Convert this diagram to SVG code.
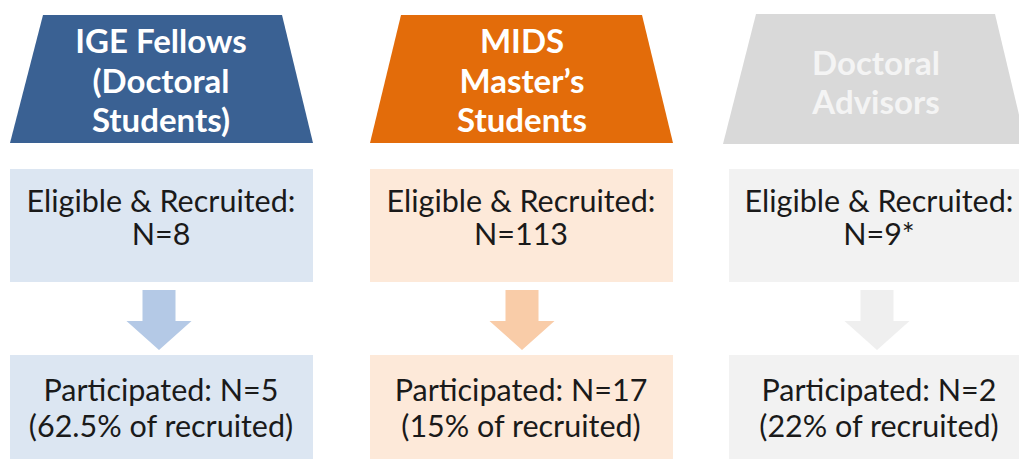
<svg xmlns="http://www.w3.org/2000/svg" width="1019" height="461" viewBox="0 0 1019 461">
  <style>
    .hd { font-family: Lato, "Open Sans", sans-serif; font-weight: bold; font-size: 33px; fill: #ffffff; text-anchor: middle; }
    .hd.pale { fill: #F4F4F4; }
    .bd { font-family: Lato, "Open Sans", sans-serif; font-size: 30.5px; fill: #1a1a1a; text-anchor: middle; }
  </style>
  <defs>
    <!-- down arrow centred on x=0, shaft top at y=0 -->
    <path id="down" d="M-16.5,0 H16.5 V31 H32.5 L0,60 L-32.5,31 H-16.5 Z"/>
  </defs>
  <rect width="1019" height="461" fill="#ffffff"/>

  <!-- column 1: IGE fellows -->
  <g id="ige-header">
    <polygon points="43,15 282,15 313,143 10,143" fill="#3A6193"/>
    <text class="hd" x="161" y="53">IGE Fellows</text>
    <text class="hd" x="161" y="93">(Doctoral</text>
    <text class="hd" x="161" y="132">Students)</text>
  </g>
  <g id="ige-recruited">
    <rect x="10" y="169" width="303" height="113" fill="#DCE6F2"/>
    <text class="bd" x="161" y="212">Eligible &amp; Recruited:</text>
    <text class="bd" x="161" y="245">N=8</text>
  </g>
  <g id="ige-participated">
    <rect x="10" y="355" width="303" height="104" fill="#DCE6F2"/>
    <text class="bd" x="161" y="401">Participated: N=5</text>
    <text class="bd" x="161" y="437">(62.5% of recruited)</text>
  </g>

  <!-- column 2: MIDS master's students -->
  <g id="mids-header">
    <polygon points="401,15 642,15 673,143 370,143" fill="#E36C0A"/>
    <text class="hd" x="522" y="53">MIDS</text>
    <text class="hd" x="522" y="93">Master’s</text>
    <text class="hd" x="522" y="132">Students</text>
  </g>
  <g id="mids-recruited">
    <rect x="370" y="169" width="303" height="113" fill="#FDE9D9"/>
    <text class="bd" x="521" y="212">Eligible &amp; Recruited:</text>
    <text class="bd" x="521" y="245">N=113</text>
  </g>
  <g id="mids-participated">
    <rect x="370" y="355" width="303" height="104" fill="#FDE9D9"/>
    <text class="bd" x="521" y="401">Participated: N=17</text>
    <text class="bd" x="521" y="437">(15% of recruited)</text>
  </g>

  <!-- column 3: doctoral advisors -->
  <g id="advisors-header">
    <polygon points="756,14 995,14 1026,144 723,144" fill="#D9D9D9"/>
    <text class="hd pale" x="876" y="75">Doctoral</text>
    <text class="hd pale" x="876" y="114">Advisors</text>
  </g>
  <g id="advisors-recruited">
    <rect x="729" y="169" width="296" height="113" fill="#F2F2F2"/>
    <text class="bd" x="879" y="212">Eligible &amp; Recruited:</text>
    <text class="bd" x="879" y="245">N=9*</text>
  </g>
  <g id="advisors-participated">
    <rect x="729" y="355" width="296" height="104" fill="#F2F2F2"/>
    <text class="bd" x="879" y="401">Participated: N=2</text>
    <text class="bd" x="879" y="437">(22% of recruited)</text>
  </g>

  <!-- connectors -->
  <g id="connectors">
    <use href="#down" x="159" y="290" fill="#B4C9E6"/>
    <use href="#down" x="522" y="290" fill="#F9CCA8"/>
    <use href="#down" x="877" y="290" fill="#EFEFEF"/>
  </g>
</svg>
